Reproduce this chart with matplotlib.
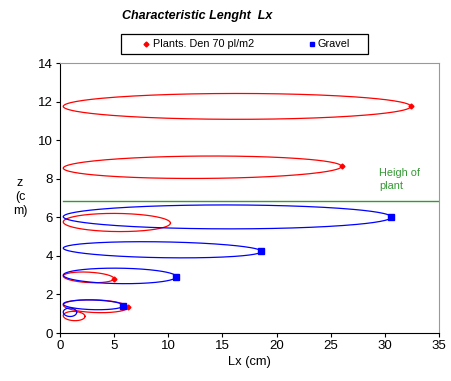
import matplotlib
matplotlib.use("Agg")
import matplotlib.pyplot as plt
from matplotlib.patches import Rectangle
import numpy as np

plt.rcParams["font.family"] = ["Liberation Sans", "DejaVu Sans"]

# Plants (red): end point of each loop (Lx, z), left end height, loop half-height
plant_lx = [32.4, 26.0, 10.2, 4.98, 6.25, 2.31]
plant_z = [11.75, 8.64, 5.70, 2.82, 1.33, 0.86]
plant_zl = [11.75, 8.55, 5.76, 2.95, 1.45, 0.90]
plant_h = [0.67, 0.58, 0.47, 0.27, 0.33, 0.24]
plant_mark = [True, True, False, True, True, False]

# Gravel (blue)
grav_lx = [30.6, 18.6, 10.74, 5.85, 1.54]
grav_z = [6.01, 4.23, 2.92, 1.42, 1.07]
grav_zl = [6.03, 4.40, 3.00, 1.50, 1.08]
grav_h = [0.62, 0.41, 0.40, 0.25, 0.22]
grav_mark = [True, True, True, True, False]

plant_height = 6.82
x_start = 0.3

W, H = 452, 381


def loop(ax, lx, z, zl, h, color):
    t = np.linspace(0, 2 * np.pi, 200)
    w = (1 + np.cos(t)) / 2
    x = x_start + (lx - x_start) * w
    y = zl + (z - zl) * w + h * np.sin(t)
    ax.plot(x, y, color=color, lw=0.9)


fig = plt.figure(figsize=(W / 100, H / 100), dpi=100)
ax = fig.add_axes([60 / W, 48 / H, 379 / W, 270 / H])

for lx, z, zl, h in zip(plant_lx, plant_z, plant_zl, plant_h):
    loop(ax, lx, z, zl, h, "#ff0000")
for lx, z, zl, h in zip(grav_lx, grav_z, grav_zl, grav_h):
    loop(ax, lx, z, zl, h, "#0000ff")

px = [v for v, m in zip(plant_lx, plant_mark) if m]
pz = [v for v, m in zip(plant_z, plant_mark) if m]
gx = [v for v, m in zip(grav_lx, grav_mark) if m]
gz = [v for v, m in zip(grav_z, grav_mark) if m]
ax.plot(px, pz, "D", color="#ff0000", ms=2.5, ls="none")
ax.plot(gx, gz, "s", color="#0000ff", ms=4, ls="none")

ax.plot([x_start, 35], [plant_height, plant_height], color="#339933", lw=1)
ax.text(29.5, 7.95, "Heigh of\nplant", color="#339933", fontsize=7.8,
        linespacing=1.35, va="center", ha="left")

ax.set_xlim(0, 35)
ax.set_ylim(0, 14)
ax.set_xticks(range(0, 36, 5))
ax.set_yticks(range(0, 15, 2))
ax.tick_params(labelsize=9.5, length=3, direction="out", width=0.8, pad=2)
ax.spines["top"].set_color("#999999")
ax.spines["right"].set_color("#999999")
for s in ("left", "bottom"):
    ax.spines[s].set_linewidth(0.8)
ax.set_xlabel("Lx (cm)", fontsize=9.3, labelpad=3)
fig.text(20 / W, 1 - 197 / H, "z\n(c\nm)", fontsize=9, ha="center",
         va="center", linespacing=1.25)

fig.text(197 / W, 1 - 16 / H, "Characteristic Lenght  Lx", fontsize=9,
         fontweight="bold", fontstyle="italic", ha="center", va="center")

# legend box drawn in figure pixels
fig.patches.append(Rectangle((121 / W, 1 - 54 / H), 247 / W, 20 / H,
                             transform=fig.transFigure, fill=False,
                             edgecolor="black", lw=0.9))
ly = 1 - 44 / H
fig.lines.append(plt.Line2D([146 / W], [ly], marker="D", color="#ff0000",
                            ms=2.5, transform=fig.transFigure))
fig.text(153 / W, ly, "Plants. Den 70 pl/m2", fontsize=7.8, va="center")
fig.lines.append(plt.Line2D([312 / W], [ly], marker="s", color="#0000ff",
                            ms=3.5, transform=fig.transFigure))
fig.text(318 / W, ly, "Gravel", fontsize=7.8, va="center")

fig.savefig("out.png", dpi=100)
